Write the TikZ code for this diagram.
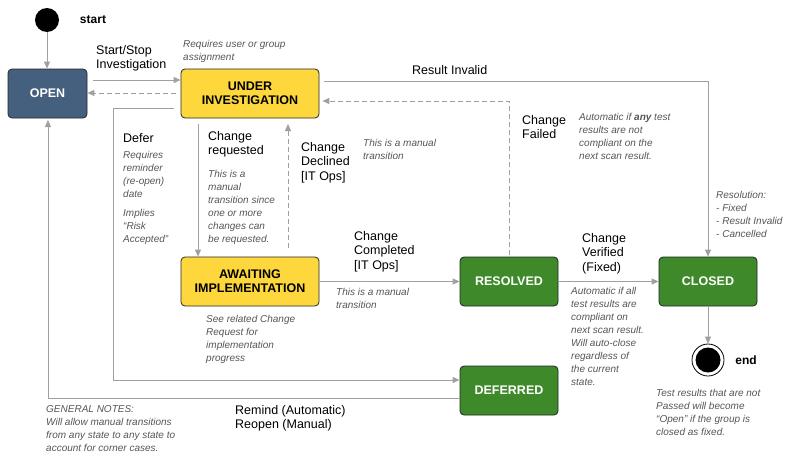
\documentclass[tikz,border=0pt]{standalone}
\usepackage{fontspec}
\setmainfont{Liberation Sans}
\usetikzlibrary{arrows.meta,calc}
\definecolor{blu}{HTML}{45607F}
\definecolor{yel}{HTML}{FDD73C}
\definecolor{grn}{HTML}{3E8A2A}
\definecolor{ln}{HTML}{A0A0A0}
\definecolor{nt}{HTML}{555555}
\begin{document}
\begin{tikzpicture}[x=1pt,y=-1pt,
 st/.style={draw=black!85,line width=0.8pt,rounded corners=4pt,minimum width=138pt,minimum height=49pt,align=center,font=\bfseries\fontsize{12.5}{14}\selectfont},
 gs/.style={st,fill=grn,text=white,minimum width=98pt},
 ys/.style={st,fill=yel},
 ar/.style={draw=ln,line width=1pt,-{Triangle[length=7pt,width=6pt]}},
 da/.style={ar,dashed,dash pattern=on 5pt off 3pt},
 lb/.style={font=\fontsize{12.5}{14.5}\selectfont,align=left,anchor=north west,inner sep=0},
 nt/.style={font=\itshape\fontsize{10}{13}\selectfont,text=nt,align=left,anchor=north west,inner sep=0}]
\useasboundingbox (0,0) rectangle (797,463);
\fill (47,20) circle (12) coordinate (s);
\node[font=\bfseries\fontsize{12}{13}\selectfont] (startl) at (93,20) {start};
\node[st,fill=blu,text=white,minimum width=79pt] (open) at (47.5,93.5) {OPEN};
\node[ys] (ui) at (250,93.5) {UNDER\\INVESTIGATION};
\node[ys] (ai) at (250,281.5) {AWAITING\\IMPLEMENTATION};
\node[gs] (res) at (509,281.5) {RESOLVED};
\node[gs] (clo) at (708,281.5) {CLOSED};
\node[gs] (def) at (509,390.5) {DEFERRED};
\node[circle,draw=black,line width=0.8pt,fill=white,minimum size=32pt,inner sep=0] (end) at (708,360) {};
\fill (end) circle (12.5);
\node[font=\bfseries\fontsize{12}{13}\selectfont] (endl) at (746,360) {end};

\draw[ar] (47,32) -- (open.north -| 47,0);
\draw[ar] (93,80) -- (ui.west |- 0,80);
\draw[da] ($(ui.west |- 0,93)+(-5,0)$) -- (open.east |- 0,93);
\draw[ar] ($(ui.east |- 0,81)+(5,0)$) -| (clo.north);
\draw[da] ($(res.north)+(0,-2)$) |- ($(ui.east |- 0,101)+(3,0)$);
\draw[ar] (174,108) -| (113,380) -- (def.west |- 0,380);
\draw[ar] (198,124) -- (ai.north -| 198,0);
\draw[da] (288,248) -- (288,124);
\draw[ar] (ai.east) -- (res.west);
\draw[ar] (res.east) -- (clo.west);
\draw[ar] (clo.south) -- (end.north);
\draw[ar] (def.west |- 0,398) -| (48,120);

\node[lb] (l1) at (96,45) {Start/Stop\\Investigation};
\node[nt] (n1) at (183,40) {Requires user or group\\assignment};
\node[lb] (l2) at (412,65) {Result Invalid};
\node[lb] (l3) at (123,133) {Defer};
\node[nt] (n2) at (123,151) {Requires\\reminder\\(re-open)\\date\\[6pt]Implies\\``Risk\\Accepted''};
\node[lb] (l4) at (208,131) {Change\\requested};
\node[nt] (n3) at (208,170) {This is a\\manual\\transition since\\one or more\\changes can\\be requested.};
\node[lb] (l5) at (301,142) {Change\\Declined\\{[IT Ops]}};
\node[nt] (n4) at (363,139) {This is a manual\\transition};
\node[lb] (l6) at (522,115) {Change\\Failed};
\node[nt] (n5) at (579,113) {Automatic if \textbf{any} test\\results are not\\compliant on the\\next scan result.};
\node[nt] (n6) at (716,191) {Resolution:\\- Fixed\\- Result Invalid\\- Cancelled};
\node[lb] (l7) at (354,231) {Change\\Completed\\{[IT Ops]}};
\node[nt] (n7) at (336,288) {This is a manual\\transition};
\node[lb] (l8) at (582,233) {Change\\Verified\\(Fixed)};
\node[nt] (n8) at (571,287) {Automatic if all\\test results are\\compliant on\\next scan result.\\Will auto-close\\regardless of\\the current\\state.};
\node[nt] (n9) at (206,315) {See related Change\\Request for\\implementation\\progress};
\node[nt] (n10) at (656,389) {Test results that are not\\Passed will become\\``Open'' if the group is\\closed as fixed.};
\node[nt] (n11) at (46,405) {GENERAL NOTES:\\Will allow manual transitions\\from any state to any state to\\account for corner cases.};
\node[lb] (l9) at (235,405) {Remind (Automatic)\\Reopen (Manual)};
\end{tikzpicture}
\end{document}
